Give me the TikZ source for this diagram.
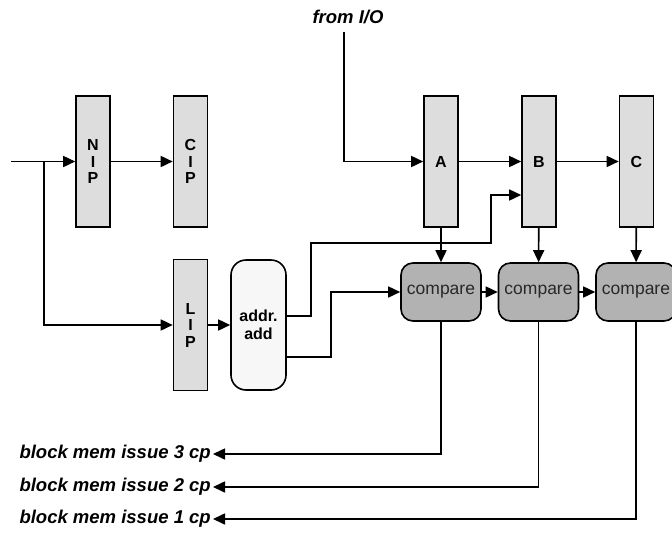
\documentclass[tikz,border=0pt]{standalone}
\usepackage{fontspec}
\setmainfont{Liberation Sans}
\usetikzlibrary{arrows.meta}
\definecolor{regfill}{RGB}{221,221,221}
\definecolor{cmpfill}{RGB}{178,178,178}
\definecolor{addfill}{RGB}{247,247,247}
\definecolor{cmptext}{RGB}{40,40,40}
\tikzset{
  arr/.style={line width=1.6pt, -{Triangle[length=12pt,width=11pt]}},
  reg/.style={draw, line width=1.6pt, fill=regfill, minimum width=34pt, minimum height=131pt,
    inner sep=0pt, align=center, font=\fontsize{16}{16.5}\selectfont\bfseries},
  cmpbox/.style={draw, line width=1.6pt, fill=cmpfill, rounded corners=12pt, minimum width=80pt,
    minimum height=58pt, inner sep=0pt, text=cmptext, font=\fontsize{17.5}{19}\selectfont},
  lbl/.style={font=\fontsize{18.5}{20}\selectfont\bfseries\itshape, inner sep=2pt}
}
\begin{document}
\begin{tikzpicture}[x=1pt, y=-1pt]
        \useasboundingbox (0,0) rectangle (672,533);

        % registers
        \node[reg] (nip) at (93,161.5) {N\\I\\P};
        \node[reg] (cip) at (190.5,161.5) {C\\I\\P};
        \node[reg] (lip) at (190.5,325) {L\\I\\P};
        \node[reg] (a) at (441,161.5) {A};
        \node[reg] (b) at (539,161.5) {B};
        \node[reg] (c) at (636.5,161.5) {C};
        \node[draw, line width=1.6pt, fill=addfill, rounded corners=15pt, minimum width=55pt,
          minimum height=130pt, inner sep=0pt, align=center,
          font=\fontsize{16}{18}\selectfont\bfseries] (addr) at (258.5,325) {addr.\\add};

        % comparators
        \node[cmpbox] (cmp1) at (441,292) {compare};
        \node[cmpbox] (cmp2) at (538.5,292) {compare};
        \node[cmpbox] (cmp3) at (636,292) {compare};

        % labels
        \node[lbl] (io) at (348,17) {from I/O};
        \node[lbl, anchor=east] (out3) at (213,454) {block mem issue 3 cp};
        \node[lbl, anchor=east] (out2) at (213,487) {block mem issue 2 cp};
        \node[lbl, anchor=east] (out1) at (213,519) {block mem issue 1 cp};

        \coordinate (in) at (11,161.5);
        \coordinate (split) at (44,161.5);
        \coordinate (iotop) at (344,32);

        % instruction pointers
        \draw[arr] (in) -- (nip);
        \draw[arr] (nip) -- (cip);
        \draw[arr] (split) |- (lip);
        \draw[arr] (lip) -- (addr);

        % data path
        \draw[arr] (iotop) |- (a);
        \draw[arr] (a) -- (b);
        \draw[arr] (b) -- (c);
        \draw[arr] ([yshift=9pt]addr.east) -- (311,316) -- (311,243) -- (491,243)
          |- ([yshift=-33.5pt]b.west);
        \draw[arr] ([yshift=-32pt]addr.east) -- (331,357) |- (cmp1);
        \foreach \r/\k in {a/1, b/2, c/3} {
          \draw[arr] (\r) -- (cmp\k);
        }
        \draw[arr] (cmp1) -- (cmp2);
        \draw[arr] (cmp2) -- (cmp3);

        % issue outputs
        \draw[arr] (cmp1.south) |- (out3);
        \draw[arr] (cmp2.south) |- (out2);
        \draw[arr] (cmp3.south) |- (out1);
      \end{tikzpicture}
\end{document}
